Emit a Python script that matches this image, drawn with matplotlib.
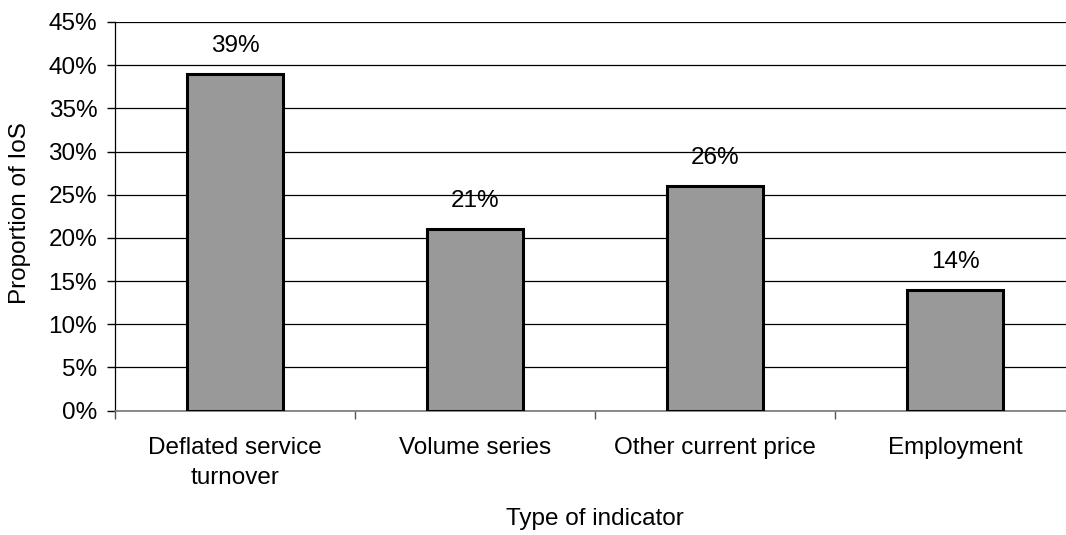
import matplotlib.pyplot as plt
from matplotlib.ticker import FuncFormatter, FixedLocator

# Daten
categories = ["Deflated service\nturnover", "Volume series", "Other current price", "Employment"]
shares = [39, 21, 26, 14]
y_ticks = list(range(0, 50, 5))

plt.rcParams["font.family"] = ["Liberation Sans", "DejaVu Sans"]
FS = 17.5

fig = plt.figure(figsize=(10.66, 5.35), dpi=100)
# Achsenbereich in Pixeln: links 115, rechts 1075, oben 22, unten 410.5
W, H = 1066, 535
ax = fig.add_axes([115 / W, (H - 410.5) / H, (1075 - 115) / W, (410.5 - 22) / H])

x = range(len(categories))
ax.bar(x, shares, width=0.4, color="#999999", edgecolor="black", linewidth=2.2, zorder=3)

ax.set_xlim(-0.5, 3.5)
ax.set_ylim(0, 45)
ax.set_yticks(y_ticks)
ax.yaxis.set_major_formatter(FuncFormatter(lambda v, _: f"{v:.0f}%"))
ax.yaxis.grid(True, color="black", linewidth=0.9, zorder=0)

# Kategorien-Beschriftung mittig, Ticks an den Grenzen
ax.set_xticks(list(x))
ax.set_xticklabels(categories, fontsize=FS, linespacing=1.5)
ax.tick_params(axis="x", which="major", length=0, pad=19)
ax.xaxis.set_minor_locator(FixedLocator([-0.5, 0.5, 1.5, 2.5, 3.5]))
ax.tick_params(axis="x", which="minor", length=5.8, color="#555555", width=1)
ax.tick_params(axis="y", length=5.8, width=1, labelsize=FS, pad=7)

for side in ["top", "right"]:
    ax.spines[side].set_visible(False)
ax.spines["left"].set_linewidth(0.9)
ax.spines["bottom"].set_color("#777777")
ax.spines["bottom"].set_linewidth(1.2)

ax.set_ylabel("Proportion of IoS", fontsize=FS)
ax.yaxis.set_label_coords((20 - 115) / 960, (410.5 - 213) / 388.5)
ax.set_xlabel("Type of indicator", fontsize=FS)
ax.xaxis.set_label_coords((595 - 115) / 960, -(519 - 410.5) / 388.5)
ax.xaxis.label.set_va("center")
ax.yaxis.label.set_va("center")

# Prozentwerte ueber den Balken
for i, v in enumerate(shares):
    ax.annotate(f"{v}%", (i, v), xytext=(0, 20), textcoords="offset points",
                ha="center", va="center", fontsize=FS)

fig.savefig("out.png", dpi=100)
